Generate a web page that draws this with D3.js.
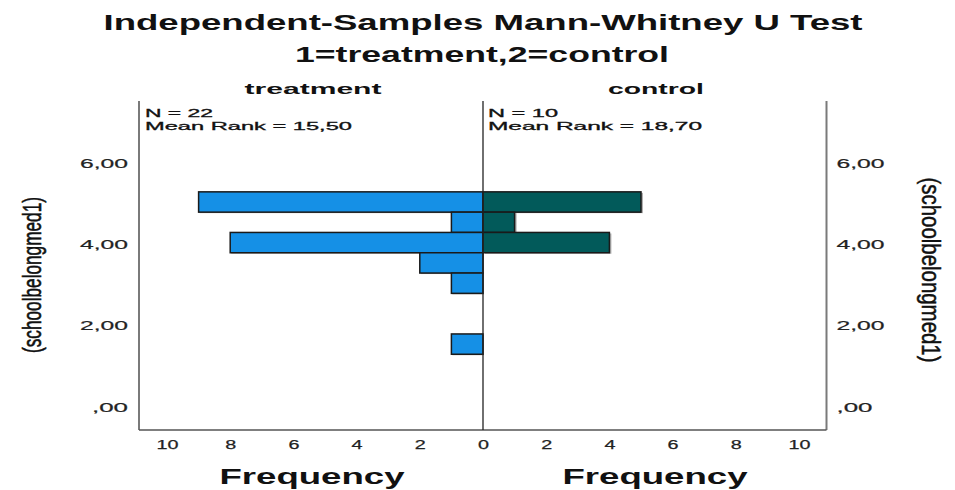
<!DOCTYPE html>
<html>
<head>
<meta charset="utf-8">
<script src="https://cdn.jsdelivr.net/npm/d3@7"></script>
<style>
  html, body { margin: 0; padding: 0; background: #fff; }
  svg { display: block; font-family: "Liberation Sans", Arial, sans-serif; }
</style>
</head>
<body>
<svg id="chart" width="955" height="490"></svg>
<script>
// ---- data ----
const binCenters = [5, 4.5, 4, 3.5, 3, 1.5];
const binWidth = 0.5;
const treatmentFreq = [9, 1, 8, 2, 1, 1];
const controlFreq = [5, 1, 4, 0, 0, 0];
const groupNames = ["treatment", "control"];
const groupN = ["N = 22", "N = 10"];
const groupMeanRank = ["Mean Rank = 15,50", "Mean Rank = 18,70"];
const yTicks = [0, 2, 4, 6];
const yTickLabels = [",00", "2,00", "4,00", "6,00"];
const xTicks = [0, 2, 4, 6, 8, 10];
const title = "Independent-Samples Mann-Whitney U Test";
const subtitle = "1=treatment,2=control";
const yTitle = "(schoolbelongmed1)";
const xTitle = "Frequency";

// ---- layout ----
const svg = d3.select("#chart");
const cx = 483, leftX = 139, rightX = 826.5, topY = 101, botY = 430;
const unitX = 31.6;
const xR = d3.scaleLinear().domain([0, (rightX - cx) / unitX]).range([cx, rightX]);
const xL = d3.scaleLinear().domain([0, (cx - leftX) / unitX]).range([cx, leftX]);
const y = d3.scaleLinear().domain([(405 - botY) / 40.6, (405 - topY) / 40.6]).range([botY, topY]);

function fitText(sel, len) {
  sel.attr("textLength", len).attr("lengthAdjust", "spacingAndGlyphs");
  return sel;
}

// titles
fitText(svg.append("text").attr("x", 483).attr("y", 30).attr("text-anchor", "middle")
  .attr("font-size", 22).attr("font-weight", "bold").attr("fill", "#111").text(title), 759);
fitText(svg.append("text").attr("x", 482).attr("y", 62).attr("text-anchor", "middle")
  .attr("font-size", 22).attr("font-weight", "bold").attr("fill", "#111").text(subtitle), 374);

// panel labels
fitText(svg.append("text").attr("x", 313).attr("y", 94).attr("text-anchor", "middle")
  .attr("font-size", 15).attr("font-weight", "bold").attr("fill", "#111").text(groupNames[0]), 137);
fitText(svg.append("text").attr("x", 656).attr("y", 94).attr("text-anchor", "middle")
  .attr("font-size", 15).attr("font-weight", "bold").attr("fill", "#111").text(groupNames[1]), 96);

// bars
const bh = y(0) - y(binWidth);
function drawBars(freq, scale, color, side) {
  const data = binCenters.map((c, i) => ({ c, f: freq[i] })).filter(d => d.f > 0);
  const g = svg.append("g");
  g.selectAll("rect.sh").data(data).enter().append("rect")
    .attr("x", d => Math.min(scale(0), scale(d.f)) + (side === "r" ? 2 : 1))
    .attr("y", d => y(d.c + binWidth / 2) + 1)
    .attr("width", d => Math.abs(scale(d.f) - scale(0)))
    .attr("height", bh)
    .attr("fill", "#b0b0b0");
  g.selectAll("rect.bar").data(data).enter().append("rect")
    .attr("x", d => Math.min(scale(0), scale(d.f)))
    .attr("y", d => y(d.c + binWidth / 2))
    .attr("width", d => Math.abs(scale(d.f) - scale(0)))
    .attr("height", bh)
    .attr("fill", color)
    .attr("stroke", "#1a1a1a")
    .attr("stroke-width", 1.5);
}
drawBars(treatmentFreq, xL, "#1590e6", "l");
drawBars(controlFreq, xR, "#025a5a", "r");

// frame lines
svg.append("line").attr("x1", leftX).attr("x2", leftX).attr("y1", topY).attr("y2", botY)
  .attr("stroke", "#7a7a7a").attr("stroke-width", 2);
svg.append("line").attr("x1", rightX).attr("x2", rightX).attr("y1", topY).attr("y2", botY)
  .attr("stroke", "#7a7a7a").attr("stroke-width", 2);
svg.append("line").attr("x1", leftX).attr("x2", rightX).attr("y1", botY).attr("y2", botY)
  .attr("stroke", "#555").attr("stroke-width", 1.3);
svg.append("line").attr("x1", cx).attr("x2", cx).attr("y1", topY).attr("y2", botY)
  .attr("stroke", "#222").attr("stroke-width", 1.3);

// stats text
[[145, 0], [488, 1]].forEach(([x0, i]) => {
  fitText(svg.append("text").attr("x", x0).attr("y", 117).attr("font-size", 11)
    .attr("fill", "#111").attr("stroke", "#111").attr("stroke-width", 0.3).text(groupN[i]), i === 0 ? 68 : 70);
  fitText(svg.append("text").attr("x", x0).attr("y", 129.5).attr("font-size", 11)
    .attr("fill", "#111").attr("stroke", "#111").attr("stroke-width", 0.3).text(groupMeanRank[i]), i === 0 ? 207 : 214);
});

// x axes (tick labels only)
function xAxis(scale, ticks) {
  const g = svg.append("g").attr("transform", `translate(0,${botY})`)
    .call(d3.axisBottom(scale).tickValues(ticks).tickSize(0).tickPadding(10).tickFormat(d3.format("d")));
  g.select(".domain").remove();
  g.selectAll("text").attr("font-size", 13).attr("fill", "#222")
    .attr("stroke", "#222").attr("stroke-width", 0.25)
    .attr("font-family", "'Liberation Sans', Arial, sans-serif")
    .attr("textLength", d => String(d).length * 11).attr("lengthAdjust", "spacingAndGlyphs");
}
xAxis(xL, xTicks.filter(d => d > 0));
xAxis(xR, xTicks);

// y axes (tick labels only)
function yAxis(xpos, left) {
  const axis = (left ? d3.axisLeft(y) : d3.axisRight(y))
    .tickValues(yTicks).tickSize(0).tickPadding(left ? 11 : 10)
    .tickFormat((d, i) => yTickLabels[i]);
  const g = svg.append("g").attr("transform", `translate(${xpos},0)`).call(axis);
  g.select(".domain").remove();
  g.selectAll("text").attr("font-size", 12).attr("fill", "#222")
    .attr("stroke", "#222").attr("stroke-width", 0.2)
    .attr("font-family", "'Liberation Sans', Arial, sans-serif")
    .attr("dy", "0.5em")
    .attr("textLength", (d, i) => yTickLabels[i].length * 12).attr("lengthAdjust", "spacingAndGlyphs");
}
yAxis(leftX, true);
yAxis(rightX, false);

// y titles
fitText(svg.append("text").attr("transform", "translate(41,275) rotate(-90)")
  .attr("text-anchor", "middle").attr("font-size", 26).attr("fill", "#111")
  .attr("stroke", "#111").attr("stroke-width", 0.6).text(yTitle), 156);
fitText(svg.append("text").attr("transform", "translate(922,270) rotate(90)")
  .attr("text-anchor", "middle").attr("font-size", 26).attr("fill", "#111")
  .attr("stroke", "#111").attr("stroke-width", 0.5).text(yTitle), 185);

// x titles
fitText(svg.append("text").attr("x", 312).attr("y", 484).attr("text-anchor", "middle")
  .attr("font-size", 22).attr("font-weight", "bold").attr("fill", "#111").text(xTitle), 185);
fitText(svg.append("text").attr("x", 655).attr("y", 484).attr("text-anchor", "middle")
  .attr("font-size", 22).attr("font-weight", "bold").attr("fill", "#111").text(xTitle), 185);
</script>
</body>
</html>
